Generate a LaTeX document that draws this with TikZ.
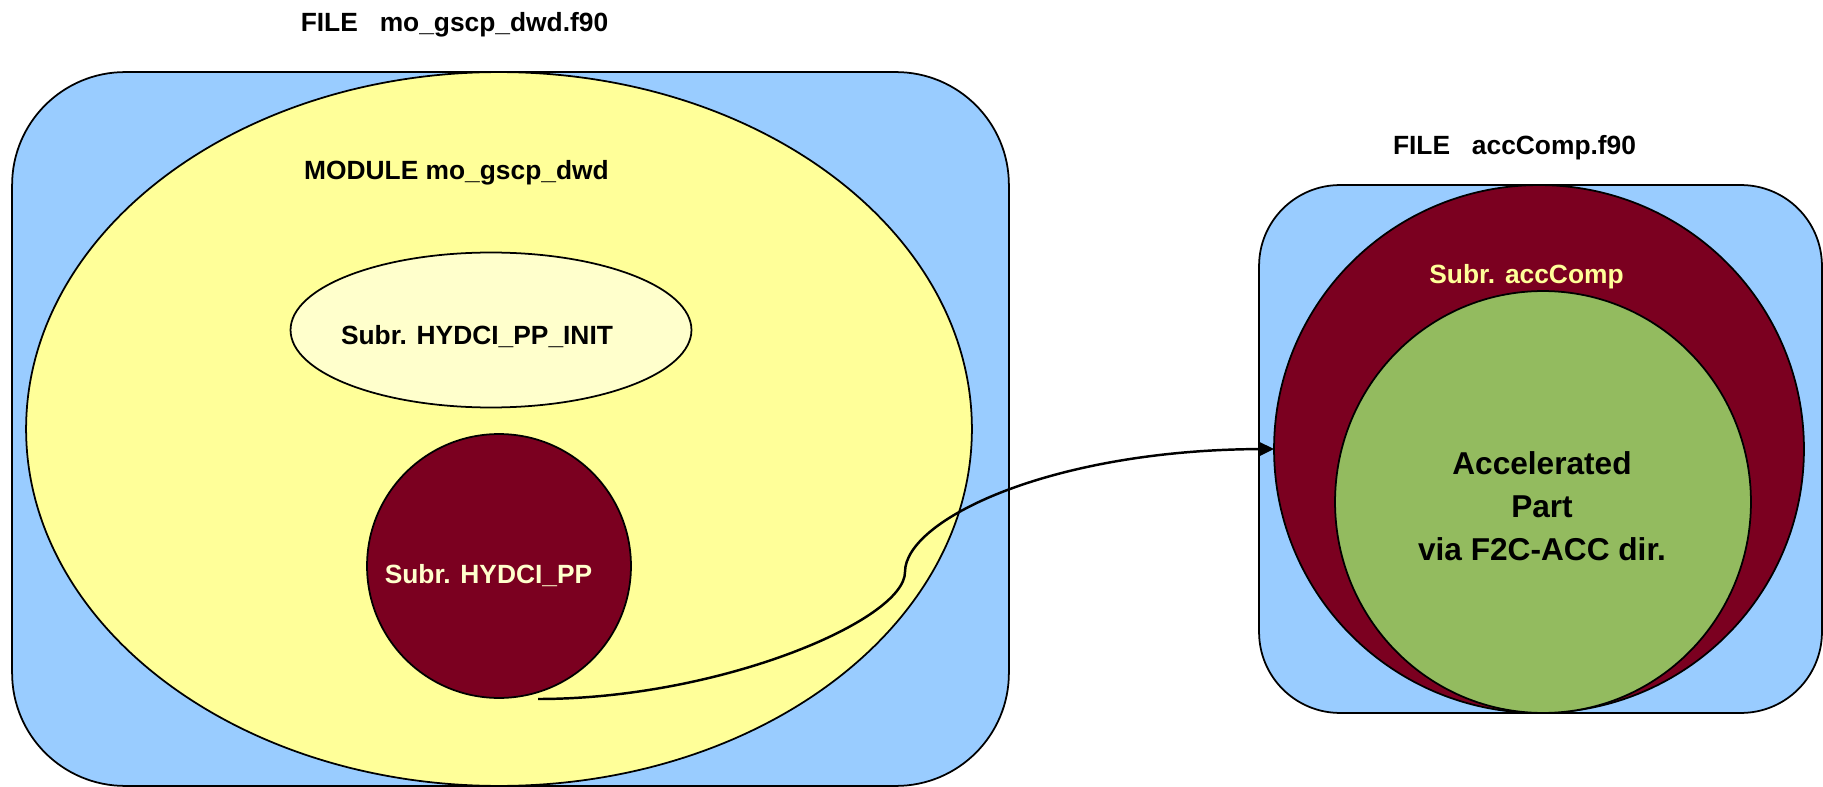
\documentclass[tikz,border=0pt]{standalone}
\usepackage{fontspec}
\setmainfont{Liberation Sans}
\usetikzlibrary{shapes.geometric,arrows.meta}

\definecolor{fileblue}{HTML}{99CCFF}
\definecolor{modyellow}{HTML}{FFFF99}
\definecolor{paleyellow}{HTML}{FFFFCC}
\definecolor{subred}{HTML}{7B0020}
\definecolor{accgreen}{HTML}{93BB5F}

\begin{document}
\begin{tikzpicture}[x=0.02cm,y=-0.02cm,
  outline/.style={draw=black,line width=1pt,inner sep=0pt,outer sep=0pt},
  filebox/.style={outline,rectangle,fill=fileblue},
  oval/.style={outline,ellipse},
  lbl/.style={inner sep=0pt,outer sep=0pt,anchor=base,font=\fontsize{15}{18}\selectfont\bfseries},
  biglbl/.style={inner sep=0pt,outer sep=0pt,align=center,font=\fontsize{18}{24.4}\selectfont\bfseries},
  call/.style={line width=1.4pt,-{Triangle[length=0.3cm,width=0.28cm]}}]
\useasboundingbox (0,0) rectangle (1823,787);

% left file: module with two subroutines
\node[filebox,rounded corners=2.26cm,minimum width=19.94cm,minimum height=14.28cm] (lfile) at (510.5,429) {};
\node[oval,fill=modyellow,minimum width=18.92cm,minimum height=14.28cm] (module) at (499,429) {};
\node[oval,fill=paleyellow,minimum width=8.02cm,minimum height=3.1cm] (init) at (491,330) {};
\node[oval,fill=subred,minimum width=5.28cm,minimum height=5.28cm] (hp) at (499,566) {};

% right file: accComp with its accelerated part
\node[filebox,rounded corners=1.62cm,minimum width=11.26cm,minimum height=10.56cm] (rfile) at (1540.5,449) {};
\node[oval,fill=subred,minimum width=10.6cm,minimum height=10.56cm] (acc) at (1539,449) {};
\node[oval,fill=accgreen,minimum width=8.32cm,minimum height=8.44cm] (accpart) at (1543,502) {};

% call from HYDCI_PP into accComp
\coordinate (cstart) at (538,699);
\coordinate (cbend) at (905,572);
\draw[call] (cstart) .. controls (720,699) and (905,620) .. (cbend)
  .. controls (905,520) and (1050,450) .. (acc.west);

% labels
\node[lbl] (lfiletxt) at (454.5,32) {FILE\hspace{0.83em}mo\_gscp\_dwd.f90};
\node[lbl] (moduletxt) at (456.5,180) {MODULE mo\_gscp\_dwd};
\node[lbl] (inittxt) at (477,344) {Subr. HYDCI\_PP\_INIT};
\node[lbl,text=paleyellow] (hptxt) at (488.5,583) {Subr. HYDCI\_PP};
\node[lbl] (rfiletxt) at (1514.5,155) {FILE\hspace{0.83em}accComp.f90};
\node[lbl,text=modyellow] (acctxt) at (1526.5,284) {Subr. accComp};
\node[biglbl] (parttxt) at (1542,506.5) {Accelerated\\Part\\via F2C-ACC dir.};
\end{tikzpicture}
\end{document}
